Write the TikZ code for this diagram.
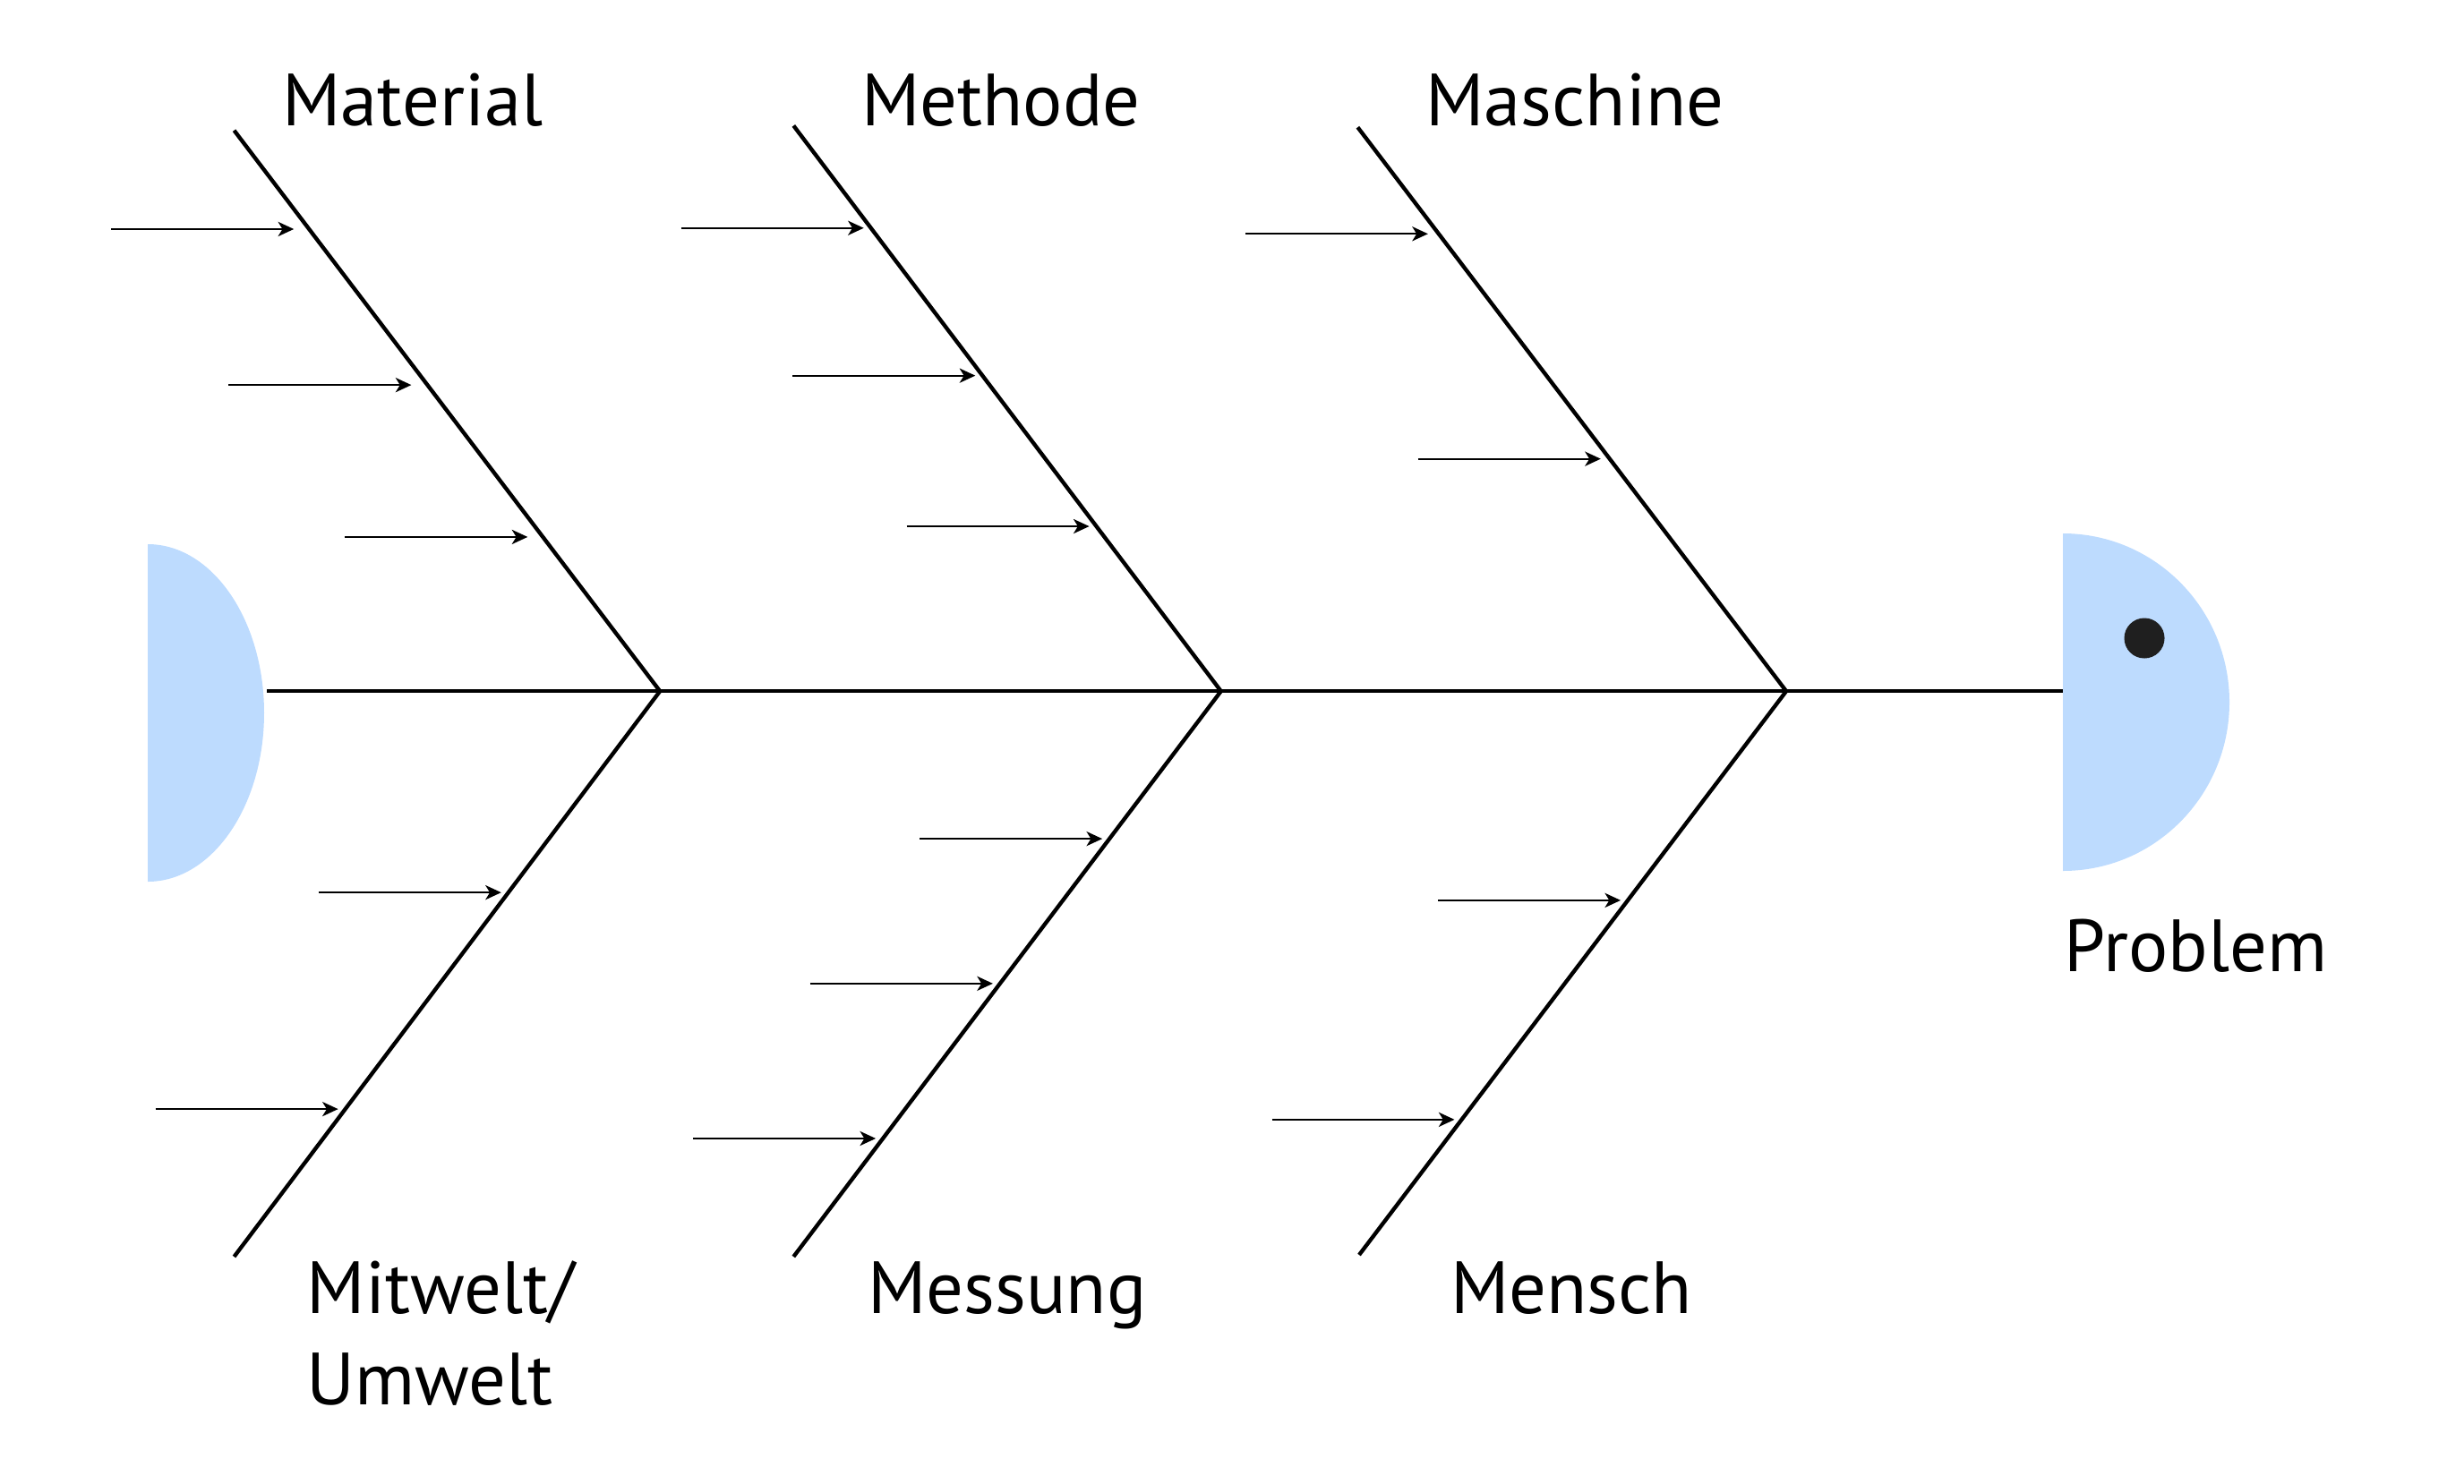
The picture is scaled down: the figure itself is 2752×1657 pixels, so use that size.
\documentclass[tikz,border=0pt]{standalone}
\usepackage{fontspec}
\setmainfont{PT Sans}
\usetikzlibrary{calc,arrows.meta}
\definecolor{fishblue}{RGB}{189,219,254}
\definecolor{eyecol}{RGB}{31,31,31}
\tikzset{
  bone/.style={line width=1.25pt, line cap=butt},
  cause/.style={line width=0.65pt, -{Stealth[length=5pt,width=4.6pt,inset=1.4pt]}},
  lbl/.style={font=\fontsize{23.5}{29}\selectfont, inner sep=0pt, anchor=base},
}
\begin{document}
\begin{tikzpicture}[x=0.01cm,y=-0.01cm]
\useasboundingbox (0,0) rectangle (2752,1657);
% tail
\fill[fishblue] (165,608) arc[start angle=-90,end angle=90,x radius=130,y radius=188.5] -- cycle;
% head
\fill[fishblue] (2304,973) arc[start angle=90,end angle=-90,x radius=186,y radius=188.5] -- cycle;
\node[circle, fill=eyecol, minimum size=0.45cm, inner sep=0pt] (eye) at (2395,713) {};
% spine points
\coordinate (S0) at (298,772.2);
\coordinate (S4) at (2304,772.2);
\coordinate (J1) at (737.1,772.2);
\coordinate (J2) at (1363.7,772.2);
\coordinate (J3) at (1995,772.2);
\coordinate (T1) at (261.5,145.7);
\coordinate (T2) at (886.3,140.4);
\coordinate (T3) at (1516.4,142.2);
\coordinate (B1) at (261.5,1404);
\coordinate (B2) at (886.3,1404);
\coordinate (B3) at (1518,1402);
\draw[bone] (S0) -- (J1) -- (J2) -- (J3) -- (S4);
\draw[bone] (T1) -- (J1) -- (B1);
\draw[bone] (T2) -- (J2) -- (B2);
\draw[bone] (T3) -- (J3) -- (B3);
% causes
\foreach \j/\e/\f/\g in {J1/T1/0.824/17, J1/T1/0.546/18, J1/T1/0.275/17,
                      J2/T2/0.819/8, J2/T2/0.558/8, J2/T2/0.2915/8,
                      J3/T3/0.811/12, J3/T3/0.412/10,
                      J1/B1/0.356/8, J1/B1/0.739/8,
                      J2/B2/0.261/8, J2/B2/0.517/8, J2/B2/0.791/8,
                      J3/B3/0.371/8, J3/B3/0.760/8}{
  \coordinate (tip) at ($(\j)!\f!(\e)+(-\g,0)$);
  \draw[cause] ($(tip)+(-204,0)$) -- (tip);
}
% labels
\node[lbl] (material) at (461,140) {Material};
\node[lbl] (methode) at (1118,140) {Methode};
\node[lbl] (maschine) at (1759,140) {Maschine};
\node[lbl, anchor=base west, align=left] (mitwelt) at (342,1569) {Mitwelt/\\Umwelt};
\node[lbl] (messung) at (1125,1467) {Messung};
\node[lbl] (mensch) at (1755,1467) {Mensch};
\node[lbl, anchor=base west] (problem) at (2305,1085) {Problem};
\end{tikzpicture}
\end{document}
